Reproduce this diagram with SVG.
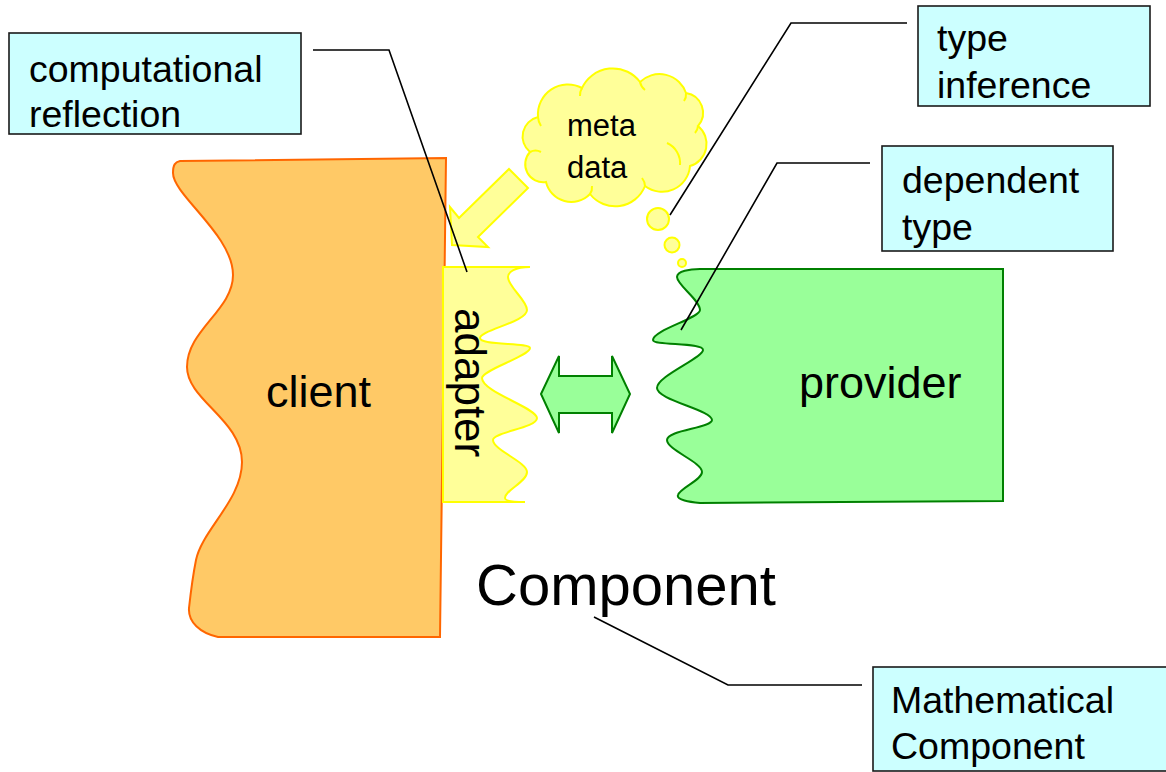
<svg xmlns="http://www.w3.org/2000/svg" width="1166" height="772" viewBox="0 0 1166 772">
  <style>
    text { font-family: "Liberation Sans", Arial, sans-serif; fill: #000; }
    .callout { fill: #ccffff; stroke: #1a1a1a; stroke-width: 1.6; }
    .callout-text { font-size: 37.5px; }
    .leader { fill: none; stroke: #000; stroke-width: 1.6; }
    .yellow { fill: #ffff99; stroke: #ffff00; stroke-width: 2; }
    .green { fill: #99ff99; stroke: #008000; stroke-width: 2; }
    .big { font-size: 45px; }
  </style>

  <rect width="1166" height="772" fill="#ffffff"/>

  <!-- client: wavy left edge, straight right edge -->
  <g id="client">
    <path d="M180,161 L446,158 L440,637 L218,637 C200,633 188,622 189,608 C191,590 193,575 196,560 C202,530 242,500 242,462 C242,420 187,400 187,367 C187,330 233,310 233,275 C233,235 173,195 173,173 C173,165 175,162 180,161 Z"
          fill="#ffc966" stroke="#ff6600" stroke-width="2"/>
    <text class="big" x="266" y="407">client</text>
  </g>

  <!-- adapter strip sitting against the client -->
  <g id="adapter">
    <path class="yellow" d="M443,267 L530,267 C515,267 508,272 508,277 C508,287 527,300 527,310 C527,322 480,330 480,338 C480,346 530,342 530,348 C530,356 482,370 482,378 C482,392 537,408 537,418 C537,428 493,432 493,440 C493,450 527,462 527,472 C527,482 505,490 505,498 C505,501 515,502 525,502 L443,502 Z"/>
    <text font-size="44" transform="translate(455,308) rotate(90)">adapter</text>
  </g>

  <!-- provider: straight right edge, wavy left edge -->
  <g id="provider">
    <path class="green" d="M700,269 L1003,269 L1003,501 L700,503 C690,502 676,500 678,495 C680,488 702,480 702,472 C702,462 667,450 667,440 C667,430 712,428 712,420 C712,410 657,400 657,388 C657,376 703,358 703,350 C703,342 653,346 653,340 C653,330 700,318 700,310 C700,300 677,285 677,277 C677,271 690,269 700,269 Z"/>
    <text class="big" x="799" y="398">provider</text>
  </g>

  <!-- two-way exchange arrow between adapter and provider -->
  <g id="exchange">
    <polygon class="green" points="541,394 559,356 559,376 612,376 612,356 630,394 612,433 612,413 559,413 559,433"/>
  </g>

  <!-- meta data thought cloud with trailing bubbles -->
  <g id="metadata">
    <path class="yellow" d="M538,117 A30,30 0 0 1 582,88 A34,34 0 0 1 640,82 A28,28 0 0 1 686,93 A20,20 0 0 1 698,126 A23,23 0 0 1 690,166 A28,28 0 0 1 645,186 A32,32 0 0 1 590,194 A26,26 0 0 1 546,182 A18,18 0 0 1 530,152 A20,20 0 0 1 538,117 Z"/>
    <path fill="none" stroke="#ffff00" stroke-width="2" d="M538,117 A18,18 0 0 0 541,126 M582,88 A14,14 0 0 0 580,96 M640,82 A14,14 0 0 0 645,90 M686,93 A12,12 0 0 1 684,101 M698,126 A12,12 0 0 1 695,133 M667,143 A22,22 0 0 1 680,165 M645,186 A14,14 0 0 0 642,178 M590,194 A12,12 0 0 0 592,186 M530,152 A12,12 0 0 1 541,152"/>
    <circle class="yellow" cx="658" cy="219" r="11"/>
    <circle class="yellow" cx="672" cy="245" r="7.5"/>
    <circle class="yellow" cx="682" cy="263" r="4"/>
    <text font-size="31" x="567" y="136">meta</text>
    <text font-size="31" x="567" y="178">data</text>
  </g>

  <!-- block arrow from the cloud down to the adapter -->
  <g id="metadata-arrow">
    <polygon class="yellow" points="509,169 528,188 478,237 488,247 452,245 450,207 459,218"/>
  </g>

  <!-- leader lines from the labels -->
  <g id="connectors">
    <polyline class="leader" points="313,50 389,50 467,272"/>
    <polyline class="leader" points="670,215 791,23 907,23"/>
    <polyline class="leader" points="681,330 777,163 870,163"/>
    <polyline class="leader" points="594,617 728,685 862,685"/>
  </g>

  <g id="label-reflection">
    <rect class="callout" x="9" y="33" width="292" height="101"/>
    <text class="callout-text" x="29" y="82">computational</text>
    <text class="callout-text" x="29" y="127">reflection</text>
  </g>

  <g id="label-inference">
    <rect class="callout" x="918" y="6" width="232" height="100"/>
    <text class="callout-text" x="937" y="51">type</text>
    <text class="callout-text" x="937" y="98">inference</text>
  </g>

  <g id="label-dependent">
    <rect class="callout" x="882" y="146" width="231" height="105"/>
    <text class="callout-text" x="902" y="193">dependent</text>
    <text class="callout-text" x="902" y="240">type</text>
  </g>

  <g id="label-component">
    <text font-size="58" x="476" y="605">Component</text>
  </g>

  <g id="label-mathematical">
    <rect class="callout" x="873" y="667" width="300" height="104"/>
    <text class="callout-text" x="891" y="713">Mathematical</text>
    <text class="callout-text" x="891" y="759">Component</text>
  </g>
</svg>
